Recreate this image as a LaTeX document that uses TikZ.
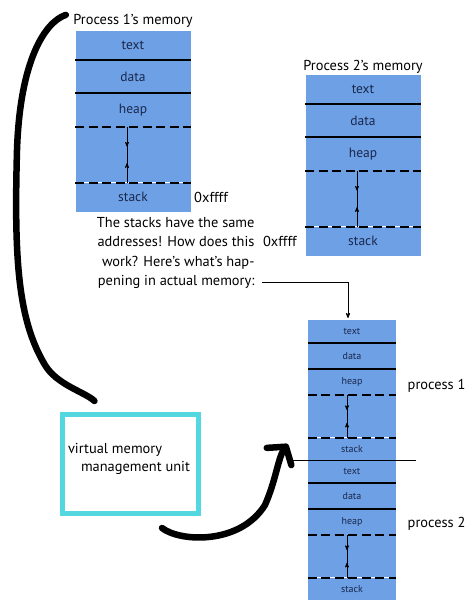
\documentclass[tikz,border=0pt]{standalone}
\usepackage{fontspec}
\setmainfont{PT Sans}
\usepackage{tikz}
\usetikzlibrary{arrows,arrows.meta,positioning,calc,decorations.markings}

\definecolor{memblue}{RGB}{110,160,230}
\definecolor{memtext}{RGB}{25,40,75}
\definecolor{mmucyan}{RGB}{82,216,222}

\begin{document}
\begin{tikzpicture}
	[x=1pt,y=-1pt,>=stealth',
		seg/.style={fill=memblue,text=memtext,inner sep=0pt,minimum width=115pt,font=\fontsize{13.5}{15}\selectfont},
		smallseg/.style={seg,minimum width=88pt,font=\fontsize{10}{11}\selectfont},
		solidsep/.style={line width=2pt},
		dashsep/.style={line width=2.2pt,dash pattern=on 9pt off 4.5pt},
		growline/.style={line width=0.7pt,postaction={decorate},decoration={markings,
			mark=at position 0.35 with {\arrow{>}},mark=at position 0.65 with {\arrowreversed{>}}}},
		pen/.style={line width=6.5pt,line cap=round,line join=round},
		caption/.style={font=\fontsize{14.4}{18}\selectfont}]

	\useasboundingbox (0,0) rectangle (474,610);

	% the two virtual address spaces
	\coordinate (p1-top) at (133,31);
	\foreach \n/\h/\t [remember=\n as \last (initially top)] in {text/29/text,data/32/data,heap/34/heap,gap/55/,stack/29/stack}
		\node[seg,minimum height=\h pt,below=0pt of p1-\last] (p1-\n) {\t};
	\coordinate (p2-top) at (363,75);
	\foreach \n/\h/\t [remember=\n as \last (initially top)] in {text/29/text,data/32/data,heap/34/heap,gap/55/,stack/29/stack}
		\node[seg,minimum height=\h pt,below=0pt of p2-\last] (p2-\n) {\t};

	% actual memory
	\coordinate (m1-top) at (352,320);
	\foreach \n/\h/\t [remember=\n as \last (initially top)] in {text/23/text,data/25/data,heap/26/heap,gap/42/,stack/22/stack}
		\node[smallseg,minimum height=\h pt,below=0pt of m1-\last] (m1-\n) {\t};
	\coordinate (m2-top) at (m1-stack.south);
	\foreach \n/\h/\t [remember=\n as \last (initially top)] in {text/23/text,data/25/data,heap/26/heap,gap/42/,stack/22/stack}
		\node[smallseg,minimum height=\h pt,below=0pt of m2-\last] (m2-\n) {\t};

	\foreach \b/\d in {p1/6,p2/6,m1/5,m2/5} {
		\draw[solidsep] (\b-text.south west) -- (\b-text.south east) (\b-data.south west) -- (\b-data.south east);
		\draw[dashsep] (\b-gap.north west) -- (\b-gap.north east) (\b-gap.south west) -- (\b-gap.south east);
		\draw[growline] ($(\b-gap.north)+(-\d,0)$) -- ($(\b-gap.south)+(-\d,0)$);
	}
	\draw[line width=0.8pt] ($(m1-stack.south west)+(-15,0)$) -- ($(m1-stack.south east)+(20,0)$);

	\node[caption,above=0pt of p1-text] (p1-title) {Process 1's memory};
	\node[caption,right=0pt of p1-stack] (p1-addr) {0xffff};
	\node[caption,above=-2pt of p2-text] (p2-title) {Process 2's memory};
	\node[caption,left=5pt of p2-stack] (p2-addr) {0xffff};
	\node[caption,anchor=west] (m1-name) at ($(m1-heap.east)+(8,4)$) {process 1};
	\node[caption,anchor=west] (m2-name) at ($(m2-heap.east)+(8,2)$) {process 2};

	\node[caption,align=right,anchor=north east,font=\fontsize{14.4}{19.3}\selectfont] (note) at (258,214)
		{The stacks have the same\\addresses! How does this\\work? Here's what's hap-\\pening in actual memory:};
	\coordinate (note-end) at ($(note.south east)+(4,-10)$);
	\draw[line width=0.8pt,->,shorten >=2pt] (note-end) -| ($(m1-text.north)+(-4,0)$);

	% the mmu
	\node[draw=mmucyan,line width=5pt,minimum width=136pt,minimum height=99pt] (mmu) at (130,464) {};
	\node[caption,align=left,anchor=north west] (mmu-text) at ($(mmu.north west)+(5,28)$)
		{virtual memory\\\hspace*{13pt}management unit};

	% hand drawn strokes
	\coordinate (c1s) at ($(p1-title.west)+(-4,-6)$);
	\coordinate (c1e) at ($(mmu.north west)+(35,-11)$);
	\draw[pen] (c1s) .. controls (45,22) and (20,60) .. (17,150)
		.. controls (14,260) and (18,320) .. (45,365)
		.. controls (57,385) and (85,392) .. (c1e);
	\coordinate (c2s) at ($(mmu.south)+(32,12)$);
	\coordinate (c2e) at ($(m1-stack.south west)+(-20,-16)$);
	\draw[pen,-{Straight Barb[length=12pt,width=30pt,round]}] (c2s) .. controls (180,542) and (240,545) .. (265,505)
		.. controls (276,480) and (278,458) .. (c2e);

\end{tikzpicture}
\end{document}
